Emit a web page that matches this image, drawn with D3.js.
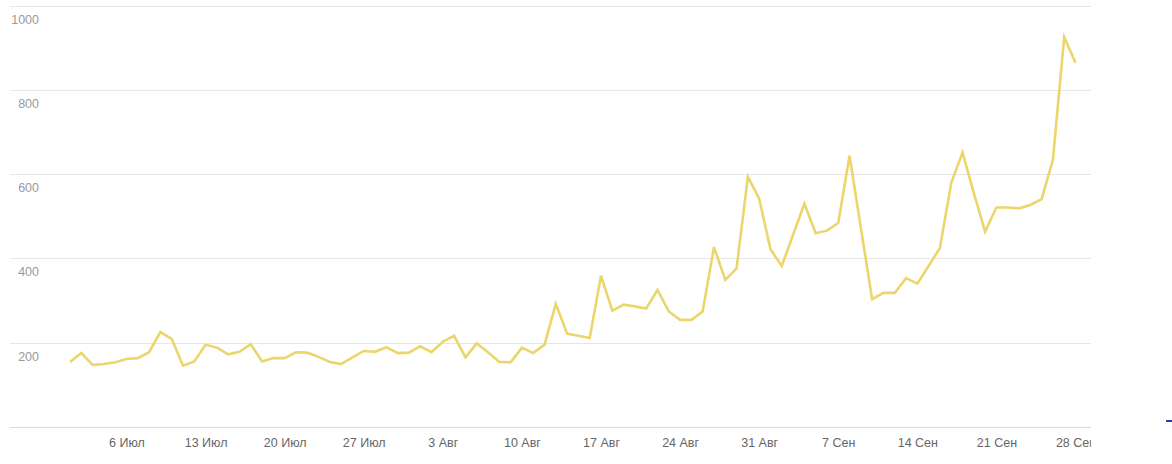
<!DOCTYPE html>
<html>
<head>
<meta charset="utf-8">
<script src="https://cdn.jsdelivr.net/npm/d3@7/dist/d3.min.js"></script>
<style>
  html, body { margin: 0; padding: 0; background: #fff; }
  svg { display: block; }
</style>
</head>
<body>
<svg id="chart" width="1172" height="464"></svg>
<script>
// Data: daily values, 1 July - 28 September
const startDate = "2020-07-01";
const values = [
  154, 175, 147, 149, 153, 161, 163, 177, 225, 209,
  145, 155, 195, 188, 172, 178, 196, 155, 163, 163,
  177, 176, 166, 154, 149, 165, 180, 178, 189, 175,
  176, 191, 177, 202, 216, 165, 198, 177, 154, 153,
  188, 175, 195, 292, 221, 216, 211, 359, 276, 290,
  286, 281, 325, 274, 254, 254, 274, 427, 349, 376,
  594, 542, 422, 382, 456, 530, 460, 466, 484, 644,
  473, 303, 318, 318, 353, 340, 382, 425, 579, 652,
  555, 464, 521, 521, 519, 527, 541, 634, 926, 865
];
const yTicks = [200, 400, 600, 800, 1000];
const gridValues = [0, 200, 400, 600, 800, 1000];
const xTickLabels = ["6 Июл", "13 Июл", "20 Июл", "27 Июл", "3 Авг", "10 Авг", "17 Авг", "24 Авг", "31 Авг", "7 Сен", "14 Сен", "21 Сен", "28 Сен"];
const xTickDates = ["2020-07-06", "2020-07-13", "2020-07-20", "2020-07-27", "2020-08-03", "2020-08-10", "2020-08-17", "2020-08-24", "2020-08-31", "2020-09-07", "2020-09-14", "2020-09-21", "2020-09-28"];

const parse = d3.utcParse("%Y-%m-%d");
const t0 = parse(startDate);
const data = values.map((v, i) => ({ date: d3.utcDay.offset(t0, i), value: v }));

const svg = d3.select("#chart");
const clipW = 1091;

svg.append("defs").append("clipPath").attr("id", "plotclip")
  .append("rect").attr("x", 0).attr("y", 0).attr("width", clipW).attr("height", 464);

const g = svg.append("g").attr("clip-path", "url(#plotclip)");

const x = d3.scaleUtc()
  .domain([data[0].date, data[data.length - 1].date])
  .range([70, 1075.5]);
const y = d3.scaleLinear().domain([0, 1000]).range([426.7, 6]);

// gridlines
g.append("g").selectAll("line").data(gridValues).join("line")
  .attr("x1", 10).attr("x2", clipW)
  .attr("y1", d => Math.round(y(d)) + 0.5).attr("y2", d => Math.round(y(d)) + 0.5)
  .attr("stroke", d => d === 0 ? "#dcdcdc" : "#e6e6e6")
  .attr("stroke-width", 1);

// y labels
g.append("g").selectAll("text").data(yTicks).join("text")
  .attr("x", 39).attr("y", d => y(d) + 18)
  .attr("text-anchor", "end")
  .attr("font-family", "Liberation Sans, Arial, sans-serif")
  .attr("font-size", 12.5)
  .attr("fill", "#9a9a9a")
  .text(d => d);

// x axis via d3.axisBottom
const xAxis = d3.axisBottom(x)
  .tickValues(xTickDates.map(parse))
  .tickFormat((d, i) => xTickLabels[i])
  .tickSize(0).tickPadding(0);
const ax = g.append("g").attr("transform", "translate(0,438)").call(xAxis);
ax.select(".domain").remove();
ax.selectAll("text")
  .attr("font-family", "Liberation Sans, Arial, sans-serif")
  .attr("font-size", 12.5)
  .attr("fill", "#666")
  .attr("dy", "0.71em");

// line
const line = d3.line().x(d => x(d.date)).y(d => y(d.value));
g.append("path").datum(data)
  .attr("d", line)
  .attr("fill", "none")
  .attr("stroke", "#ebd66c")
  .attr("stroke-width", 2.6)
  .attr("stroke-linejoin", "miter");

// small legend fragment at right edge
svg.append("line")
  .attr("x1", 1166).attr("x2", 1172)
  .attr("y1", 421).attr("y2", 421)
  .attr("stroke", "#2d3c9c").attr("stroke-width", 2);
</script>
</body>
</html>
